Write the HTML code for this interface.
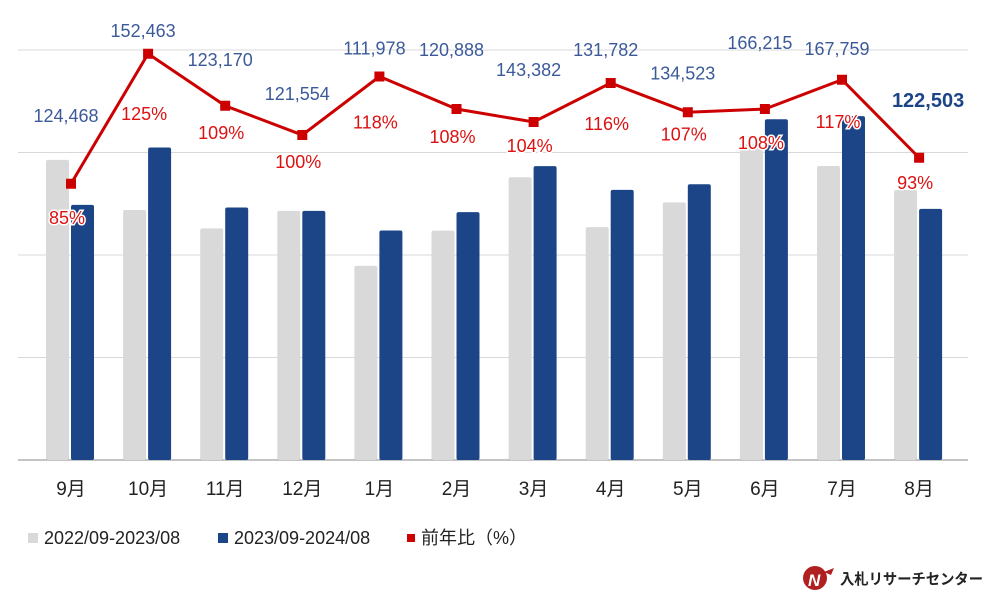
<!DOCTYPE html>
<html><head><meta charset="utf-8"><style>
html,body{margin:0;padding:0;background:#fff;}
svg{display:block;font-family:"Liberation Sans","Noto Sans CJK JP",sans-serif;}
</style></head><body>
<svg id="chart" width="1000" height="600" viewBox="0 0 1000 600">
<g id="grid"></g>
<g id="bars"></g>
<g id="line"></g>
<g id="labels"></g>
<g id="xaxis"></g>
<g>
  <g><rect x="28" y="533" width="10" height="10" fill="#d9d9d9"/><text x="44" y="544" font-size="18" fill="#222">2022/09-2023/08</text></g>
  <g><rect x="218" y="533" width="10" height="10" fill="#1c4587"/><text x="234" y="544" font-size="18" fill="#222">2023/09-2024/08</text></g>
  <g><rect x="407" y="534" width="8" height="8" fill="#cc0000"/><text x="421" y="544" font-size="18" fill="#222">前年比（%）</text></g>
</g>
<g>
  <circle cx="815" cy="578" r="12" fill="#b02020"/>
  <text x="808" y="586" font-size="17" font-weight="bold" font-style="italic" fill="#fff">N</text>
  <path d="M824 572 L834 568 L831 575 Z" fill="#b02020"/>
  <text x="840" y="584" font-size="15" font-weight="bold" fill="#222" textLength="143" lengthAdjust="spacingAndGlyphs">入札リサーチセンター</text>
</g>
</svg>
<script>
const categories=["9月","10月","11月","12月","1月","2月","3月","4月","5月","6月","7月","8月"];
const prevValues=[146400,121950,113000,121500,94700,111900,137900,113600,125700,153900,143400,131700];
const currValues=[124468,152463,123170,121554,111978,120888,143382,131782,134523,166215,167759,122503];
const ratios=[85,125,109,100,118,108,104,116,107,108,117,93];
const valueLabelDy=[-62,-17,-40,-35,-22,-53,-46,-27,-33,-60,-25,-51];
const ratioLabelDy=[40,66,33,33,52,34,30,47,28,40,48,31];
const yTicks=[0,50000,100000,150000,200000];

const NS="http://www.w3.org/2000/svg";
const baseY=460, topY=50, x0=68, step=77.1;
const yV=v=>baseY-(v/200000)*(baseY-topY);
const yR=r=>baseY-r*3.25;
const xC=i=>x0+i*step;
function mk(tag,attrs,parent,txt){const e=document.createElementNS(NS,tag);for(const k in attrs)e.setAttribute(k,attrs[k]);if(txt!=null)e.textContent=txt;parent.appendChild(e);return e;}
const G=id=>document.getElementById(id);

yTicks.forEach((t,i)=>{
  const l=mk('line',{x1:18,x2:968,y1:yV(t),y2:yV(t),stroke:i===0?'#888':'#d9d9d9','stroke-width':1},G('grid'));
  
  
});
categories.forEach((c,i)=>{
  const cx=xC(i);
  const b1=mk('rect',{x:cx-22,y:yV(prevValues[i]),width:23,height:baseY-yV(prevValues[i]),fill:'#d9d9d9',rx:2},G('bars'));
  
  
  const b2=mk('rect',{x:cx+3,y:yV(currValues[i]),width:23,height:baseY-yV(currValues[i]),fill:'#1c4587',rx:2},G('bars'));
  
  
  const t=mk('text',{x:cx+3,y:495,'font-size':19,'text-anchor':'middle',fill:'#222'},G('xaxis'),c);
  
  
});
const pts=ratios.map((r,i)=>xC(i)+3+','+yR(r)).join(' ');
const pl=mk('polyline',{points:pts,fill:'none',stroke:'#cc0000','stroke-width':3},G('line'));


ratios.forEach((r,i)=>{
  const px=xC(i)+3, py=yR(r);
  const m=mk('rect',{x:px-5,y:py-5,width:10,height:10,fill:'#cc0000'},G('line'));
  
  
  const last=i===categories.length-1;
  const vl=mk('text',{x:last?px+9:px-5,y:py+valueLabelDy[i],'font-size':last?20:18,'font-weight':last?'bold':'normal','text-anchor':'middle',fill:last?'#1c4587':'#3c5a9a'},G('labels'),currValues[i].toLocaleString('en-US'));
  
  
  const rl=mk('text',{x:px-4,y:py+ratioLabelDy[i],'font-size':18,'text-anchor':'middle',fill:'#dd1111',stroke:'#fff','stroke-width':3,'paint-order':'stroke'},G('labels'),r+'%');
  
  
});
</script>
</body></html>
